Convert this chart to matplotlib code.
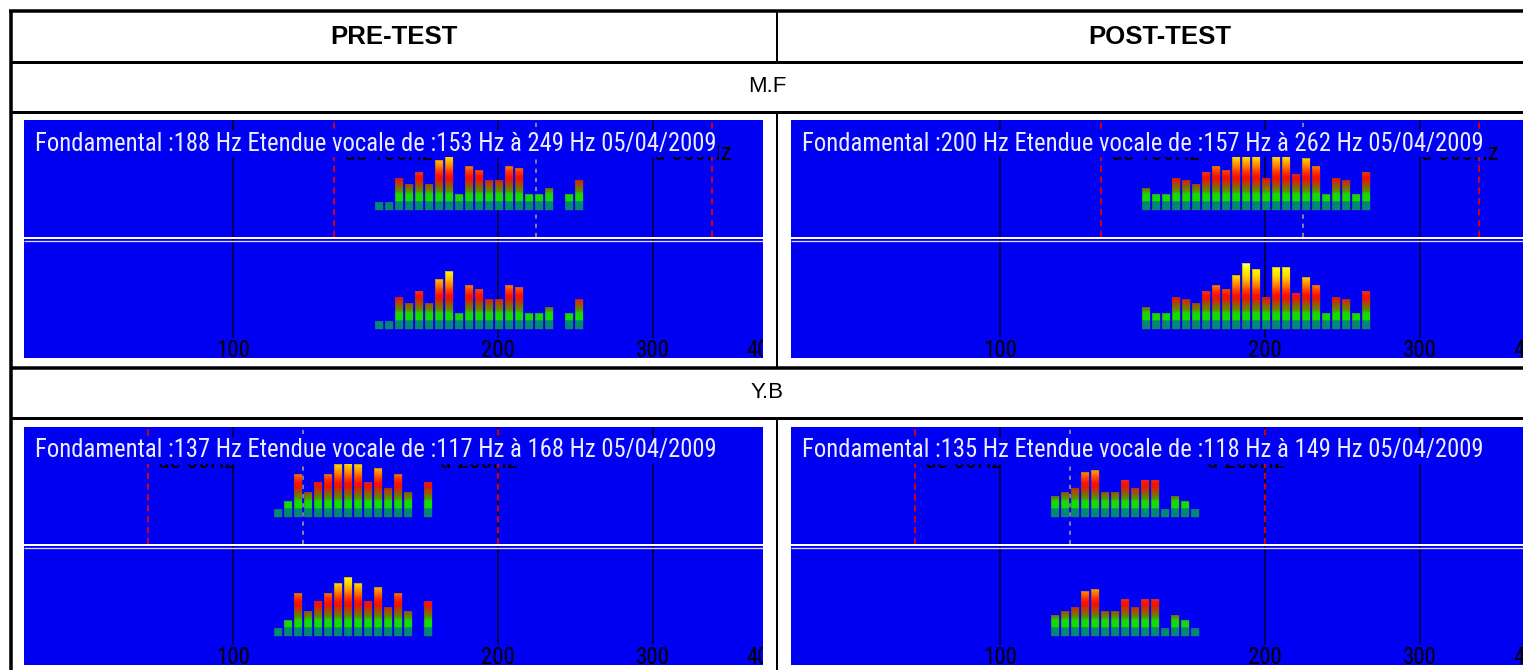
import numpy as np
import matplotlib
matplotlib.use("Agg")
import matplotlib.pyplot as plt
from matplotlib import font_manager as fm
from matplotlib.colors import LinearSegmentedColormap, Normalize
from matplotlib.font_manager import FontProperties
from matplotlib.lines import Line2D
from matplotlib.patches import PathPatch
from matplotlib.path import Path
from matplotlib.ticker import NullLocator
from matplotlib.transforms import ScaledTranslation

# ---------------- data ----------------
column_titles = ["PRE-TEST", "POST-TEST"]
speakers = ["M.F", "Y.B"]
session_date = "05/04/2009"

# order of the four recordings: M.F pre, M.F post, Y.B pre, Y.B post
fundamental_hz = [188, 200, 137, 135]
range_low_hz = [153, 157, 117, 118]
range_high_hz = [249, 262, 168, 149]

# expected register of each speaker (red markers) and reference pitch (grey marker)
mf_register_hz = [130, 350]
yb_register_hz = [80, 200]
mf_reference_hz = 221
yb_reference_hz = 120

freq_ticks = [100, 200, 300, 400]
freq_min, freq_max = 57.8, 400.0

# occurrence level of each analysis bin (0 = empty bin)
mf_pre_levels = [8, 8, 32, 26, 38, 26, 50, 58, 16, 44, 40, 30, 30, 44, 42, 16, 16, 22, 0, 16, 30]
mf_post_levels = [22, 16, 16, 32, 30, 26, 38, 44, 40, 54, 66, 60, 32, 62, 62, 36, 52, 44, 16, 32, 30, 16, 38]
yb_pre_levels = [8, 16, 43, 25, 35, 43, 53, 59, 53, 35, 49, 29, 43, 25, 0, 35]
yb_post_levels = [21, 25, 29, 45, 47, 25, 25, 37, 29, 37, 37, 8, 21, 16, 8]

# centre frequency of the first bin of each histogram (Hz)
mf_pre_first_hz = 146.4
mf_post_first_hz = 146.4
yb_pre_first_hz = 112.4
yb_post_first_hz = 115.4

BIN_RATIO = 1.0265      # frequency ratio between neighbouring bins
BAR_FILL = 0.8          # share of a bin covered by its bar

# ---------------- style ----------------
FIG_W, FIG_H, DPI = 1523, 670, 100
BLUE = "#0000f2"
TITLE_COLOR = "#ececff"
GRID_COLOR = "#000028"
RED = "#e60000"
GREY = "#9a9a9a"
LEVEL_TOP = 90
LEVEL_BOTTOM = -29

meter_stops = [
    (0, "#008a72"), (7.3, "#008a72"), (8.7, "#14dc00"), (15.3, "#14dc00"),
    (18, "#5a9400"), (21.5, "#7a7000"), (25.5, "#b84400"), (29, "#e01e00"),
    (33, "#ff1000"), (38, "#ff3c00"), (42, "#ff7000"), (46, "#ff9c00"),
    (50, "#ffc400"), (54, "#ffe400"), (59, "#fff600"), (65, "#ffff78"), (90, "#ffffa0"),
]
meter_cmap = LinearSegmentedColormap.from_list(
    "meter", [(v / LEVEL_TOP, c) for v, c in meter_stops])


def narrow_font_file():
    prefs = ["Liberation Sans Narrow", "Roboto Condensed", "DejaVu Sans Condensed",
             "Noto Sans Condensed", "Open Sans Condensed"]
    entries = fm.fontManager.ttflist

    def regular(e):
        w = e.weight
        return e.style == "normal" and (w == 400 or str(w).lower() in ("normal", "regular", "book", "400"))

    for name in prefs:
        for e in entries:
            if e.name == name and regular(e):
                return e.fname
    for e in entries:
        if "condensed" in str(e.stretch) and regular(e) and "Sans" in e.name:
            return e.fname
    return None


nf = narrow_font_file()
screen_font = FontProperties(fname=nf) if nf else FontProperties(family="DejaVu Sans")
table_font = ["Liberation Sans", "DejaVu Sans"]

fig = plt.figure(figsize=(FIG_W / DPI, FIG_H / DPI), dpi=DPI, facecolor="white")
renderer = fig.canvas.get_renderer()


def sized(fp, size):
    f = fp.copy()
    f.set_size(size)
    return f


def fitted(text, fp, target_px):
    probe = fig.text(0, 0, text, fontproperties=sized(fp, 20))
    w = probe.get_window_extent(renderer=renderer).width
    probe.remove()
    return sized(fp, 20 * target_px / w)


title_fp = fitted("Fondamental :188 Hz Etendue vocale de :153 Hz à 249 Hz 05/04/2009", screen_font, 681)
marker_fp = fitted("de 80Hz", screen_font, 77)
tick_fp = fitted("300", screen_font, 34)


def px_line(x0, y0, x1, y1, width_px, color="black", z=10):
    fig.add_artist(Line2D([x0 / FIG_W, x1 / FIG_W], [1 - y0 / FIG_H, 1 - y1 / FIG_H],
                          transform=fig.transFigure, color=color,
                          linewidth=width_px * 72 / DPI, solid_capstyle="butt", zorder=z))


def blank_axes(rect):
    ax = fig.add_axes(rect)
    ax.set_facecolor(BLUE)
    ax.set_xscale("log")
    ax.set_xlim(freq_min, freq_max)
    ax.set_ylim(LEVEL_BOTTOM, LEVEL_TOP)
    ax.set_autoscale_on(False)
    ax.set_xticks([])
    ax.xaxis.set_minor_locator(NullLocator())
    ax.set_yticks([])
    for s in ax.spines.values():
        s.set_visible(False)
    return ax


def draw_histogram(ax, first_hz, levels):
    levels = np.asarray(levels, dtype=float)
    centres = first_hz * BIN_RATIO ** np.arange(len(levels))
    lefts = centres * BIN_RATIO ** (-BAR_FILL / 2)
    rights = centres * BIN_RATIO ** (BAR_FILL / 2)
    keep = levels > 0
    bars = ax.bar(lefts[keep], levels[keep], width=(rights - lefts)[keep], align="edge",
                  facecolor="none", edgecolor=(0.3, 0.2, 0.6, 0.45), linewidth=0.5, zorder=4)
    grad = np.linspace(0, LEVEL_TOP, 512).reshape(-1, 1)
    im = ax.imshow(grad, cmap=meter_cmap, norm=Normalize(0, LEVEL_TOP), origin="lower",
                   aspect="auto", extent=(0, 1, 0, LEVEL_TOP),
                   transform=ax.get_yaxis_transform(), interpolation="bilinear", zorder=3)
    outline = Path.make_compound_path(
        *[b.get_path().transformed(b.get_patch_transform()) for b in bars])
    clip = PathPatch(outline, transform=ax.transData, facecolor="none", edgecolor="none")
    ax.add_patch(clip)
    im.set_clip_path(clip)


panel_levels = [mf_pre_levels, mf_post_levels, yb_pre_levels, yb_post_levels]
panel_first = [mf_pre_first_hz, mf_post_first_hz, yb_pre_first_hz, yb_post_first_hz]
registers = [mf_register_hz, yb_register_hz]
references = [mf_reference_hz, yb_reference_hz]

PANEL_LEFT = [24, 791]
PANEL_TOP = [120, 427]
PANEL_W = 739
HALF_H = 119

for r in range(2):
    for c in range(2):
        k = 2 * r + c
        left, top = PANEL_LEFT[c], PANEL_TOP[r]
        ax_t = blank_axes([left / FIG_W, 1 - (top + HALF_H) / FIG_H, PANEL_W / FIG_W, HALF_H / FIG_H])
        ax_b = blank_axes([left / FIG_W, 1 - (top + 2 * HALF_H) / FIG_H, PANEL_W / FIG_W, HALF_H / FIG_H])

        for f in freq_ticks:
            if f < freq_max * 0.99:
                ax_t.axvline(f, color=GRID_COLOR, linewidth=1.1, zorder=1.5)
                ax_b.axvline(f, ymin=21 / HALF_H, ymax=1, color=GRID_COLOR, linewidth=1.1, zorder=1.5)
            t = ax_b.text(f, 19 / HALF_H, str(f), transform=ax_b.get_xaxis_transform(),
                          ha="center", va="top", color="black", fontproperties=tick_fp, zorder=5)
            t.set_clip_on(True)
            t.set_clip_path(ax_b.patch)

        lo_reg, hi_reg = registers[r]
        for f in (lo_reg, hi_reg):
            ax_t.axvline(f, ymin=0.02, ymax=1, color=RED, linewidth=1.3, dashes=(3.5, 2.5), zorder=2)
        ax_t.axvline(references[r], ymin=0.02, ymax=1, color=GREY, linewidth=1.2, dashes=(2.5, 3), zorder=2)

        yb = 1 - 34 / HALF_H
        ax_t.text(lo_reg, yb, f"de {lo_reg}Hz", fontproperties=marker_fp, color="black",
                  ha="left", va="center", zorder=5,
                  transform=ax_t.get_xaxis_transform() + ScaledTranslation(10 / DPI, 0, fig.dpi_scale_trans))
        ax_t.text(hi_reg, yb, f"à {hi_reg}Hz", fontproperties=marker_fp, color="black",
                  ha="left", va="center", zorder=5,
                  transform=ax_t.get_xaxis_transform() + ScaledTranslation(-58 / DPI, 0, fig.dpi_scale_trans))

        draw_histogram(ax_t, panel_first[k], panel_levels[k])
        draw_histogram(ax_b, panel_first[k], panel_levels[k])

        title = (f"Fondamental :{fundamental_hz[k]} Hz Etendue vocale de :{range_low_hz[k]} Hz "
                 f"à {range_high_hz[k]} Hz {session_date}")
        ax_t.text(11 / PANEL_W, 1 - 23.5 / HALF_H, title, transform=ax_t.transAxes,
                  ha="left", va="center", color=TITLE_COLOR, fontproperties=title_fp, zorder=8,
                  bbox=dict(boxstyle="square,pad=0.08", facecolor=BLUE, edgecolor="none"))

        # separator between the two halves
        px_line(left, top + 118, left + PANEL_W, top + 118, 2.0, color="white", z=5)
        px_line(left, top + 121, left + PANEL_W, top + 121, 1.3, color="#dcdcff", z=5)

# ---------------- table frame ----------------
px_line(8.5, 11, FIG_W, 11, 3.5)
px_line(10.5, 9.5, 10.5, FIG_H, 3.5)
px_line(10, 61.5, FIG_W, 61.5, 3)
px_line(10, 112, FIG_W, 112, 3)
px_line(10, 368, FIG_W, 368, 3.5)
px_line(10, 418, FIG_W, 418, 3)
px_line(777, 11, 777, 61.5, 2)
px_line(777, 112, 777, 368, 2)
px_line(777, 418, 777, FIG_H, 2)

for x, label in zip([394, 1160], column_titles):
    fig.text(x / FIG_W, 1 - 37 / FIG_H, label, ha="center", va="center",
             family=table_font, weight="bold", fontsize=18.5, color="black")
for y, name in zip([87, 393], speakers):
    fig.text(767 / FIG_W, 1 - y / FIG_H, name, ha="center", va="center",
             family=table_font, fontsize=16, color="black")

fig.savefig("out.png", dpi=DPI, facecolor="white")
